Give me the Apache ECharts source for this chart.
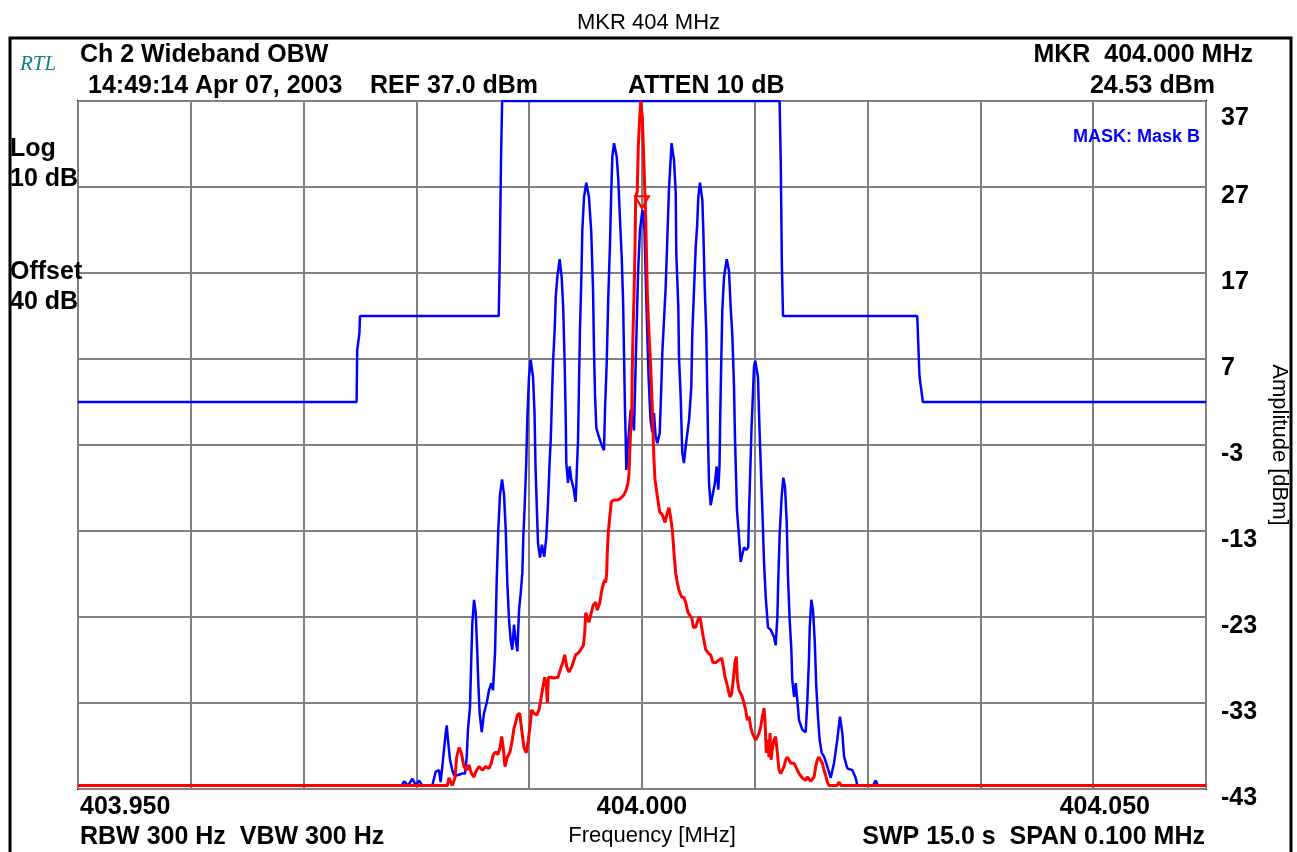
<!DOCTYPE html>
<html>
<head>
<meta charset="utf-8">
<title>MKR 404 MHz</title>
<script src="https://cdn.jsdelivr.net/npm/echarts@6.0.0/dist/echarts.min.js"></script>
<style>
  html, body { margin: 0; padding: 0; background: #fff; }
  #main { width: 1297px; height: 852px; }
</style>
</head>
<body>
<div id="main"></div>
<script>
// centre frequency (MHz) and offsets in kHz
var centerMHz = 404.0;
var spanKHz = [-50, 50];
var levelTicks = [-43, 37];          // bottom / top of the screen, 10 dB/div
var markerPoint = [0, 24.53];        // kHz offset, dBm

// limit mask "Mask B"  [kHz offset, dBm]
var maskB = [
  [-50, 2], [-25.3, 2], [-25.25, 8], [-25.05, 10], [-25.0, 12], [-12.7, 12],
  [-12.62, 18], [-12.5, 30], [-12.4, 37], [12.2, 37], [12.3, 30], [12.4, 18],
  [12.5, 12], [24.4, 12], [24.6, 5], [24.9, 2], [50, 2]
];

// blue trace  [kHz offset, dBm]
var blueTrace = [
  [-50, -42.6], [-21.3, -42.6], [-21.1, -42.1], [-20.74, -42.6], [-20.36, -41.8], [-20.04, -42.6],
  [-19.77, -42.0], [-19.48, -42.6], [-18.59, -42.6], [-18.29, -41.0], [-18.0, -40.8], [-17.85, -42.2],
  [-17.62, -39.3], [-17.4, -36.5], [-17.31, -35.6], [-17.2, -37.3], [-17.02, -39.6], [-16.82, -40.8],
  [-16.67, -41.4], [-16.37, -41.4], [-15.93, -41.2], [-15.69, -41.2], [-15.54, -39.3], [-15.43, -36.1],
  [-15.25, -33.5], [-15.13, -27.6], [-15.04, -23.7], [-14.89, -21.0], [-14.74, -22.5], [-14.6, -27.2],
  [-14.51, -30.7], [-14.39, -34.2], [-14.21, -36.4], [-14.01, -34.2], [-13.77, -33.0], [-13.56, -31.5],
  [-13.36, -30.7], [-13.21, -31.5], [-13.03, -27.2], [-12.88, -18.7], [-12.74, -12.9], [-12.59, -8.8],
  [-12.41, -7.0], [-12.23, -8.8], [-12.08, -12.9], [-11.94, -19.0], [-11.79, -23.3], [-11.64, -25.7],
  [-11.5, -26.8], [-11.35, -23.9], [-11.2, -25.7], [-11.05, -27.0], [-10.9, -22.2], [-10.75, -20.2],
  [-10.61, -17.9], [-10.52, -13.7], [-10.4, -10.0], [-10.26, -5.0], [-10.17, -0.1], [-10.02, 4.9],
  [-9.87, 6.9], [-9.66, 4.9], [-9.53, 0.8], [-9.44, -5.5], [-9.31, -10.9], [-9.22, -14.4],
  [-9.04, -16.1], [-8.87, -14.6], [-8.67, -16.0], [-8.48, -13.7], [-8.33, -9.7], [-8.18, -4.7],
  [-8.09, -2.4], [-8.0, 1.7], [-7.89, 6.5], [-7.74, 10.4], [-7.65, 14.2], [-7.51, 16.5],
  [-7.3, 18.6], [-7.12, 16.5], [-6.98, 12.7], [-6.85, 6.1], [-6.76, -0.1], [-6.71, -5.1],
  [-6.56, -7.4], [-6.41, -5.5], [-6.27, -7.0], [-6.09, -7.9], [-5.88, -9.6], [-5.74, -4.7],
  [-5.67, -2.4], [-5.59, 3.7], [-5.5, 10.4], [-5.38, 16.2], [-5.29, 22.0], [-5.14, 25.8],
  [-4.94, 27.5], [-4.7, 25.8], [-4.5, 21.8], [-4.34, 15.0], [-4.26, 8.4], [-4.17, 3.0],
  [-4.05, -1.0], [-3.81, -2.1], [-3.52, -3.2], [-3.37, -3.6], [-3.28, 1.1], [-3.13, 6.5],
  [-2.99, 14.1], [-2.84, 20.3], [-2.72, 26.7], [-2.63, 30.5], [-2.48, 32.1], [-2.24, 30.5],
  [-2.1, 27.8], [-1.95, 23.2], [-1.8, 18.9], [-1.68, 13.9], [-1.6, 8.0], [-1.51, 1.1],
  [-1.45, -2.0], [-1.39, -5.9], [-1.3, -3.9], [-1.15, -1.3], [-1.0, 1.1], [-0.86, 1.1],
  [-0.71, -1.3], [-0.53, 8.0], [-0.35, 17.0], [-0.18, 22.0], [0.04, 24.3], [0.22, 22.0],
  [0.4, 13.0], [0.58, 5.0], [0.75, 0.0], [0.91, -1.5], [1.06, 0.7], [1.21, -2.0],
  [1.36, -2.8], [1.57, -1.6], [1.71, 3.7], [1.8, 7.7], [1.95, 11.5], [2.1, 15.4],
  [2.24, 20.8], [2.39, 26.7], [2.62, 32.1], [2.84, 30.1], [2.99, 26.3], [3.04, 19.3],
  [3.22, 13.0], [3.28, 7.2], [3.43, 2.6], [3.57, -3.9], [3.72, -5.1], [3.87, -3.2],
  [4.08, -1.0], [4.17, -0.1], [4.37, 3.7], [4.46, 10.0], [4.61, 15.0], [4.76, 20.0],
  [4.9, 22.8], [4.99, 25.8], [5.14, 27.5], [5.35, 25.5], [5.44, 21.8], [5.56, 15.4],
  [5.7, 10.0], [5.79, 3.0], [5.85, -2.0], [5.94, -7.4], [6.09, -10.0], [6.29, -8.6],
  [6.47, -7.4], [6.62, -5.5], [6.76, -8.2], [6.87, -5.5], [6.94, 0.7], [7.03, 6.9],
  [7.12, 12.7], [7.27, 16.5], [7.51, 18.6], [7.71, 17.3], [7.86, 13.0], [8.0, 10.0],
  [8.16, 3.7], [8.24, -2.0], [8.33, -6.3], [8.42, -10.6], [8.6, -13.7], [8.75, -16.6],
  [9.04, -14.9], [9.24, -15.2], [9.42, -14.9], [9.49, -10.6], [9.62, -5.1], [9.71, -1.0],
  [9.78, 1.1], [9.93, 6.1], [10.04, 6.8], [10.28, 4.9], [10.42, -1.3], [10.52, -5.1],
  [10.67, -10.6], [10.82, -16.7], [10.97, -20.7], [11.17, -24.2], [11.41, -24.5], [11.7, -25.3],
  [11.85, -26.3], [12.0, -23.0], [12.08, -18.7], [12.21, -13.2], [12.38, -9.0], [12.53, -6.8],
  [12.68, -7.9], [12.83, -12.0], [12.94, -18.3], [13.09, -23.3], [13.24, -26.8], [13.32, -30.3],
  [13.48, -32.3], [13.63, -30.7], [13.77, -32.7], [13.92, -35.0], [14.21, -36.1], [14.51, -36.4],
  [14.65, -33.0], [14.8, -28.0], [14.87, -24.2], [15.01, -21.0], [15.16, -22.2], [15.31, -25.7],
  [15.45, -31.1], [15.6, -34.6], [15.75, -37.3], [15.93, -38.8], [16.13, -39.2], [16.43, -40.4],
  [16.73, -41.7], [17.02, -40.0], [17.31, -37.3], [17.55, -34.6], [17.76, -36.5], [17.91, -39.2],
  [18.2, -40.6], [18.64, -40.8], [18.94, -41.7], [19.09, -42.6], [20.48, -42.6], [20.72, -42.0],
  [20.92, -42.6], [50, -42.6]
];

// red trace  [kHz offset, dBm]
var redTrace = [
  [-50, -42.6], [-17.26, -42.6], [-17.11, -41.7], [-16.82, -42.6], [-16.58, -41.7], [-16.43, -39.3],
  [-16.22, -38.2], [-16.02, -38.8], [-15.78, -40.4], [-15.54, -40.8], [-15.34, -40.2], [-15.13, -41.2],
  [-14.89, -41.6], [-14.74, -41.0], [-14.45, -40.4], [-14.16, -40.8], [-13.86, -40.4], [-13.56, -40.6],
  [-13.36, -40.0], [-13.18, -39.0], [-12.97, -38.7], [-12.77, -39.0], [-12.59, -38.2], [-12.44, -36.9],
  [-12.3, -38.2], [-12.15, -40.4], [-11.94, -39.3], [-11.7, -38.7], [-11.5, -37.3], [-11.35, -35.9],
  [-11.2, -35.3], [-11.05, -34.4], [-10.84, -34.2], [-10.67, -36.1], [-10.46, -38.2], [-10.26, -38.8],
  [-10.08, -37.3], [-9.93, -35.8], [-9.78, -33.8], [-9.57, -34.2], [-9.34, -34.4], [-9.13, -33.8],
  [-8.98, -32.7], [-8.78, -31.1], [-8.63, -30.0], [-8.48, -31.1], [-8.39, -33.0], [-8.3, -30.0],
  [-8.09, -30.0], [-7.8, -30.1], [-7.45, -30.0], [-7.21, -29.0], [-7.0, -28.2], [-6.85, -27.4],
  [-6.67, -28.8], [-6.47, -29.4], [-6.23, -28.8], [-6.03, -28.0], [-5.88, -27.4], [-5.65, -27.2],
  [-5.43, -26.8], [-5.2, -26.3], [-5.08, -24.9], [-4.99, -22.5], [-4.85, -23.0], [-4.7, -23.6],
  [-4.49, -22.5], [-4.32, -21.6], [-4.1, -21.3], [-3.96, -22.2], [-3.75, -21.4], [-3.61, -20.2],
  [-3.46, -19.3], [-3.31, -18.7], [-3.22, -19.0], [-3.13, -17.9], [-3.08, -15.6], [-2.99, -13.2],
  [-2.86, -11.4], [-2.72, -9.6], [-2.48, -9.4], [-2.19, -9.4], [-1.89, -9.2], [-1.6, -8.8],
  [-1.39, -8.2], [-1.24, -7.4], [-1.15, -6.3], [-1.09, -3.9], [-1.0, -1.3], [-0.91, 1.1],
  [-0.86, 5.7], [-0.8, 10.0], [-0.71, 14.2], [-0.62, 20.0], [-0.56, 25.8], [-0.42, 26.5],
  [-0.33, 31.7], [-0.2, 35.1], [-0.12, 37], [0.0, 37], [0.03, 35.1], [0.18, 29.3],
  [0.33, 23.2], [0.47, 14.7], [0.62, 10.0], [0.77, 6.1], [0.91, 1.4], [1.0, -2.4],
  [1.06, -4.7], [1.15, -7.0], [1.36, -9.0], [1.57, -10.8], [1.8, -11.1], [2.04, -12.0],
  [2.24, -10.9], [2.39, -10.3], [2.54, -11.4], [2.69, -12.9], [2.84, -15.6], [2.99, -17.9],
  [3.13, -19.0], [3.28, -19.9], [3.52, -20.7], [3.72, -20.7], [3.87, -21.3], [4.08, -22.5],
  [4.23, -22.3], [4.41, -23.1], [4.55, -24.2], [4.76, -24.2], [4.96, -23.3], [5.14, -23.0],
  [5.29, -24.2], [5.43, -25.3], [5.65, -26.8], [5.88, -27.2], [6.09, -27.4], [6.29, -28.3],
  [6.53, -28.3], [6.83, -28.0], [7.07, -27.8], [7.21, -28.8], [7.36, -30.0], [7.51, -30.7],
  [7.65, -31.5], [7.8, -32.3], [7.95, -31.9], [8.09, -30.3], [8.24, -28.3], [8.36, -27.6],
  [8.45, -30.3], [8.6, -31.5], [8.75, -31.9], [8.89, -32.3], [9.04, -33.0], [9.19, -33.8],
  [9.34, -35.0], [9.49, -34.6], [9.64, -35.8], [9.78, -36.5], [9.93, -36.5], [10.08, -37.3],
  [10.23, -36.9], [10.37, -36.5], [10.52, -35.8], [10.67, -34.6], [10.82, -33.6], [10.9, -35.0],
  [11.02, -38.8], [11.14, -37.3], [11.26, -39.3], [11.35, -36.5], [11.44, -39.6], [11.55, -38.4],
  [11.7, -37.3], [11.85, -36.9], [12.0, -38.8], [12.15, -40.8], [12.3, -41.2], [12.44, -40.8],
  [12.59, -40.4], [12.74, -39.6], [12.88, -39.3], [13.03, -39.6], [13.18, -40.0], [13.32, -40.2],
  [13.48, -40.0], [13.63, -40.2], [13.77, -40.8], [13.92, -41.2], [14.21, -41.7], [14.51, -42.0],
  [14.65, -41.6], [14.95, -42.1], [15.1, -42.3], [15.25, -41.6], [15.4, -40.4], [15.54, -39.6],
  [15.69, -39.3], [15.84, -39.4], [15.99, -40.0], [16.13, -40.8], [16.28, -41.4], [16.43, -42.2],
  [16.58, -42.6], [17.29, -42.6], [17.46, -42.2], [17.64, -42.6], [50, -42.6]
];

function toMHz(trace) {
  return trace.map(function (p) { return [centerMHz + p[0] / 1000, p[1]]; });
}

var chart = echarts.init(document.getElementById('main'));

var boldFont = 'bold 25px "Liberation Sans", Arial, sans-serif';

function txt(text, x, y, align, font, color) {
  return {
    type: 'text',
    x: x,
    y: y,
    z: 10,
    style: {
      text: text,
      font: font || boldFont,
      fill: color || '#000',
      textAlign: align || 'left',
      align: align || 'left',
      textVerticalAlign: 'middle',
      verticalAlign: 'middle'
    }
  };
}

var option = {
  backgroundColor: '#fff',
  animation: false,
  title: {
    text: 'MKR 404 MHz',
    left: 'center',
    top: 7,
    textStyle: {
      fontFamily: '"Liberation Sans", Arial, sans-serif',
      fontWeight: 'normal',
      fontSize: 22,
      color: '#000'
    }
  },
  grid: {
    left: 78,
    right: 91,
    top: 101,
    bottom: 63,
    outerBoundsMode: 'none',
    containLabel: false,
    show: true,
    borderColor: '#000',
    borderWidth: 2,
    backgroundColor: '#fff'
  },
  xAxis: {
    type: 'value',
    min: centerMHz + spanKHz[0] / 1000,
    max: centerMHz + spanKHz[1] / 1000,
    interval: 0.01,
    name: 'Frequency [MHz]',
    nameLocation: 'middle',
    nameGap: 36,
    nameTextStyle: {
      fontFamily: '"Liberation Sans", Arial, sans-serif',
      fontSize: 22,
      color: '#000',
      padding: [0, 0, 0, 20]
    },
    axisLine: { show: false },
    axisTick: { show: false },
    splitLine: { show: true, lineStyle: { color: '#808080', width: 2 } },
    axisLabel: {
      margin: 6,
      fontFamily: '"Liberation Sans", Arial, sans-serif',
      fontWeight: 'bold',
      fontSize: 25,
      color: '#000',
      alignMinLabel: 'left',
      alignMaxLabel: 'right',
      formatter: function (v, i) {
        if (i === 0) return '{l|' + v.toFixed(3) + '}';
        if (i === 5) return v.toFixed(3);
        if (i === 10) return '{r|' + v.toFixed(3) + '}';
        return '';
      },
      rich: {
        l: { padding: [0, 0, 0, 2] },
        r: { padding: [0, 56, 0, 0] }
      }
    }
  },
  yAxis: {
    type: 'value',
    position: 'right',
    min: levelTicks[0],
    max: levelTicks[1],
    interval: 10,
    name: 'Amplitude [dBm]',
    nameLocation: 'middle',
    nameRotate: -90,
    nameGap: 58,
    nameTextStyle: {
      fontFamily: '"Liberation Sans", Arial, sans-serif',
      fontSize: 22,
      color: '#000'
    },
    axisLine: { show: false },
    axisTick: { show: false },
    splitLine: { show: true, lineStyle: { color: '#808080', width: 2 } },
    axisLabel: {
      margin: 15,
      fontFamily: '"Liberation Sans", Arial, sans-serif',
      fontWeight: 'bold',
      fontSize: 25,
      color: '#000',
      verticalAlign: 'top',
      lineHeight: 19,
      formatter: function (v) {
        if (v === levelTicks[1]) return '{t|' + v + '}';
        return String(v);
      },
      rich: {
        t: { padding: [16, 0, 0, 0], lineHeight: 19 }
      }
    }
  },
  series: [
    {
      name: 'Mask B',
      type: 'line',
      data: toMHz(maskB),
      showSymbol: false,
      lineStyle: { color: '#0000ff', width: 2.5 },
      itemStyle: { color: '#0000ff' },
      z: 3
    },
    {
      name: 'Trace 1',
      type: 'line',
      data: toMHz(blueTrace),
      showSymbol: false,
      lineStyle: { color: '#0000ff', width: 2.5 },
      itemStyle: { color: '#0000ff' },
      z: 4
    },
    {
      name: 'Trace 2',
      type: 'line',
      data: toMHz(redTrace),
      showSymbol: false,
      lineStyle: { color: '#ff0000', width: 3 },
      itemStyle: { color: '#ff0000' },
      z: 5,
      markPoint: {
        symbol: 'triangle',
        symbolRotate: 180,
        symbolSize: [14, 12],
        symbolOffset: [0, -6],
        label: { show: false },
        itemStyle: { color: 'rgba(0,0,0,0)', borderColor: '#ff0000', borderWidth: 2 },
        data: [{ coord: [centerMHz + markerPoint[0] / 1000, markerPoint[1]] }]
      }
    }
  ],
  graphic: [
    {
      type: 'rect',
      z: 0,
      shape: { x: 10, y: 38, width: 1281, height: 840 },
      style: { fill: 'none', stroke: '#000', lineWidth: 3 }
    },
    txt('RTL', 20, 64, 'left', 'italic 21px "Liberation Serif", serif', '#138080'),
    txt('Ch 2 Wideband OBW', 80, 55),
    txt('MKR  404.000 MHz', 1253, 55, 'right'),
    txt('14:49:14 Apr 07, 2003', 88, 86),
    txt('REF 37.0 dBm', 370, 86),
    txt('ATTEN 10 dB', 628, 86),
    txt('24.53 dBm', 1215, 86, 'right'),
    txt('Log', 10, 149),
    txt('10 dB', 10, 179),
    txt('Offset', 10, 272),
    txt('40 dB', 10, 302),
    txt('MASK: Mask B', 1200, 137, 'right', 'bold 18px "Liberation Sans", Arial, sans-serif', '#0000ff'),
    txt('RBW 300 Hz  VBW 300 Hz', 80, 837),
    txt('SWP 15.0 s  SPAN 0.100 MHz', 1205, 837, 'right')
  ]
};

chart.setOption(option);
</script>
</body>
</html>
